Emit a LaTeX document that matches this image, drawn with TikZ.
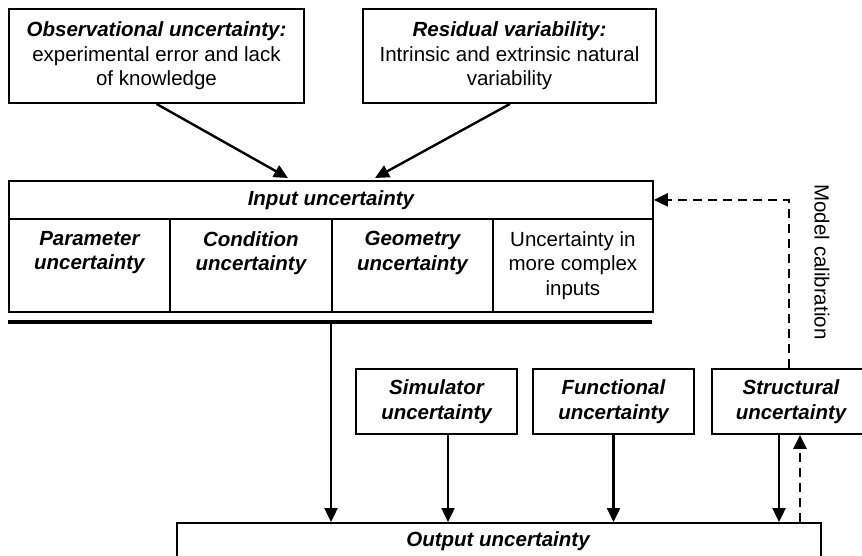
\documentclass[tikz,border=0pt]{standalone}
\usepackage{fontspec}
\setmainfont{Liberation Sans}
\usetikzlibrary{arrows.meta,calc}
\begin{document}
\begin{tikzpicture}[x=1pt,y=-1pt,
  txt/.style={inner sep=0pt, align=center, font=\fontsize{20.5}{24.5}\selectfont},
  bi/.style={txt, font=\fontsize{20.5}{24.5}\selectfont\bfseries\itshape},
  frame/.style={draw, line width=1.8pt, inner sep=0pt},
  arr/.style={line width=2.4pt, -{Triangle[length=14pt,width=13pt]}},
  darr/.style={line width=2.4pt, dash pattern=on 9pt off 6pt, -{Triangle[length=14pt,width=13pt]}}
]
\useasboundingbox (0,0) rectangle (862,556);
\clip (0,0) rectangle (862,556);

% top boxes
\node[frame, minimum width=295pt, minimum height=94pt] (obs) at (156.5,56) {};
\node[txt] (obstext) at (obs.center) {{\bfseries\itshape Observational uncertainty:}\\experimental error and lack\\of knowledge};
\node[frame, minimum width=293pt, minimum height=94pt] (res) at (509.5,56) {};
\node[txt] (restext) at (res.center) {{\bfseries\itshape Residual variability:}\\Intrinsic and extrinsic natural\\variability};

% input uncertainty block
\node[frame, minimum width=644pt, minimum height=38pt, anchor=north west] (head) at (8,180) {};
\node[bi] (headtext) at (head.center) {Input uncertainty};
\node[frame, minimum width=161pt, minimum height=93pt, anchor=north west] (c1) at (8,218) {};
\node[frame, minimum width=162pt, minimum height=93pt, anchor=north west] (c2) at (169,218) {};
\node[frame, minimum width=161pt, minimum height=93pt, anchor=north west] (c3) at (331,218) {};
\node[frame, minimum width=160pt, minimum height=93pt, anchor=north west] (c4) at (492,218) {};
\node[bi, anchor=north] (c1t) at ($(c1.north)+(0,13)$) {Parameter\\uncertainty};
\node[bi, anchor=north] (c2t) at ($(c2.north)+(0,13)$) {Condition\\uncertainty};
\node[bi, anchor=north] (c3t) at ($(c3.north)+(0,13)$) {Geometry\\uncertainty};
\node[txt, anchor=north] (c4t) at ($(c4.north)+(0,13)$) {Uncertainty in\\more complex\\inputs};

% thick bar
\coordinate (barL) at (8,322);
\coordinate (barR) at (652,322);
\coordinate (bar) at (331,322);
\draw[line width=3.2pt] (barL) -- (barR);

% middle boxes
\node[frame, minimum width=161pt, minimum height=65pt] (sim) at (436.5,401.5) {};
\node[bi] (simtext) at (sim.center) {Simulator\\uncertainty};
\node[frame, minimum width=161pt, minimum height=65pt] (fun) at (613.5,401.5) {};
\node[bi] (funtext) at (fun.center) {Functional\\uncertainty};
\node[frame, minimum width=158pt, minimum height=65pt] (str) at (791,401.5) {};
\node[bi] (strtext) at (str.center) {Structural\\uncertainty};

% output box
\node[frame, minimum width=644pt, minimum height=60pt, anchor=north west] (out) at (176,522) {};
\node[bi] (outtext) at (498,541) {Output uncertainty};

% model calibration label
\node[txt, rotate=-90] (mc) at (822,262) {Model calibration};

% arrows
\coordinate (tA) at (288,178);
\coordinate (tB) at (375,178);
\draw[arr] (obs.south) -- (tA);
\draw[arr] ([xshift=0.5pt]res.south) -- (tB);
\draw[arr] (bar) -- (bar |- out.north);
\draw[arr] ([xshift=11.5pt]sim.south) -- ([xshift=11.5pt]sim.south |- out.north);
\draw[arr] (fun.south) -- (fun.south |- out.north);
\draw[arr] ([xshift=-12pt]str.south) -- ([xshift=-12pt]str.south |- out.north);
\draw[darr] ([xshift=9pt]str.south |- out.north) -- ([xshift=9pt]str.south);
\draw[darr] ([xshift=-2pt]str.north) -- ([xshift=-2pt]str.north |- head.east) -- (head.east);
\end{tikzpicture}
\end{document}
